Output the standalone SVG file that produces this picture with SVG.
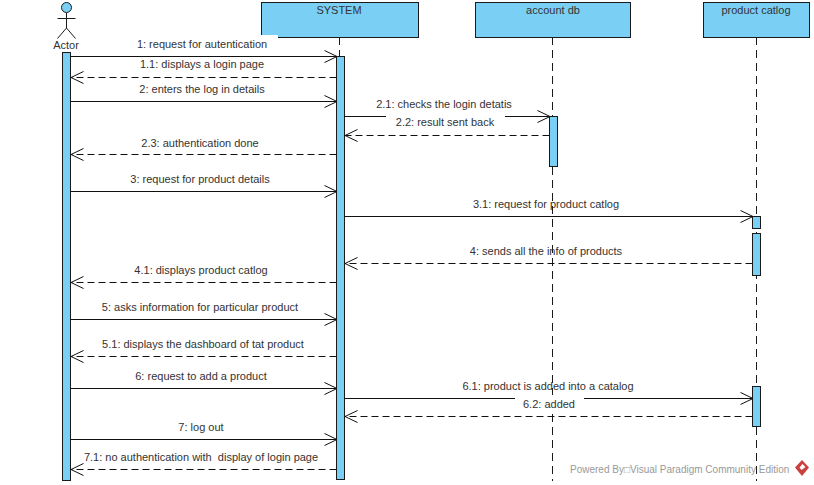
<svg xmlns="http://www.w3.org/2000/svg" width="814" height="485" viewBox="0 0 814 485">
<style>
text{font-family:"Liberation Sans",Arial,sans-serif;font-size:11px;fill:#333;text-anchor:middle;white-space:pre}
.box{fill:#7acff5;stroke:#1a1a1a;stroke-width:1}
.act{fill:#7acff5;stroke:#1a1a1a;stroke-width:1}
.life{stroke:#1a1a1a;stroke-width:1;stroke-dasharray:8 5;fill:none}
.msg{stroke:#111;stroke-width:1;fill:none;marker-end:url(#open)}
.ret{stroke:#111;stroke-width:1;stroke-dasharray:7 4;fill:none;marker-end:url(#open)}
.bg{fill:#fff}
text.wm{font-size:10px;fill:#999;text-anchor:start}
</style>
<defs>
<marker id="open" markerUnits="userSpaceOnUse" markerWidth="16" markerHeight="16" refX="13.5" refY="8" orient="auto"><path d="M1 2L13.5 8L1 14" fill="none" stroke="#111" stroke-width="1"/></marker>
</defs>
<rect width="814" height="485" fill="#fff"/>
<g id="lifelines">
<path class="life" d="M339.500 37V480"/>
<path class="life" d="M552.500 37V481"/>
<path class="life" d="M756.500 37V481"/>
</g>
<g id="node-actor">
<circle cx="66.500" cy="7.500" r="5" fill="#7acff5" stroke="#1a1a1a"/>
<path d="M66.500 13V28M57.500 18.500H75.500M66.500 28L57.500 38.500M66.500 28L75.500 38.500" fill="none" stroke="#1a1a1a"/>
<text x="66" y="49">Actor</text>
<rect class="act" x="62.500" y="52.500" width="8" height="428"/>
</g>
<g id="node-system">
<rect class="box" x="261.500" y="2.500" width="157" height="35"/>
<text x="339" y="14">SYSTEM</text>
<rect class="act" x="336.500" y="56.500" width="8" height="423"/>
</g>
<g id="node-account">
<rect class="box" x="475.500" y="2.500" width="155" height="35"/>
<text x="553" y="14">account db</text>
<rect class="act" x="549.500" y="116.500" width="8" height="50"/>
</g>
<g id="node-product">
<rect class="box" x="703.500" y="2.500" width="106" height="35"/>
<text x="756" y="14">product catlog</text>
<rect class="act" x="752.500" y="216.500" width="8" height="12"/>
<rect class="act" x="752.500" y="233.500" width="8" height="42"/>
<rect class="act" x="752.500" y="386.500" width="8" height="40"/>
</g>
<g id="connectors">
<path class="msg" d="M70.500 56.500H337"/>
<path class="ret" d="M336.500 77.500H71"/>
<path class="msg" d="M70.500 101.500H337"/>
<path class="msg" d="M344.500 116.500H550"/>
<path class="ret" d="M549.500 135.500H345"/>
<path class="ret" d="M336.500 154.500H71"/>
<path class="msg" d="M70.500 191.500H337"/>
<path class="msg" d="M344.500 216.500H753"/>
<path class="ret" d="M752.500 263.500H345"/>
<path class="ret" d="M336.500 282.500H71"/>
<path class="msg" d="M70.500 319.500H337"/>
<path class="ret" d="M336.500 356.500H71"/>
<path class="msg" d="M70.500 388.500H337"/>
<path class="msg" d="M344.500 398.500H753"/>
<path class="ret" d="M752.500 416.500H345"/>
<path class="msg" d="M70.500 439.500H337"/>
<path class="ret" d="M336.500 469.500H71"/>
</g>
<g id="labels">
<rect class="bg" x="130" y="35" width="148" height="16"/>
<text x="202" y="48">1: request for autentication</text>
<text x="202" y="68">1.1: displays a login page</text>
<text x="202" y="93">2: enters the log in details</text>
<rect class="bg" x="386" y="109" width="119" height="14"/>
<text x="444" y="108">2.1: checks the login detatis</text>
<text x="445" y="126">2.2: result sent back</text>
<text x="200" y="147">2.3: authentication done</text>
<text x="200" y="183">3: request for product details</text>
<text x="546" y="208">3.1: request for product catlog</text>
<text x="546" y="255">4: sends all the info of products</text>
<text x="201" y="274">4.1: displays product catlog</text>
<text x="200" y="311">5: asks information for particular product</text>
<text x="203" y="348">5.1: displays the dashboard of tat product</text>
<text x="201" y="380">6: request to add a product</text>
<text x="548" y="390">6.1: product is added into a catalog</text>
<rect class="bg" x="515" y="395" width="69" height="14"/>
<text x="549" y="408">6.2: added</text>
<text x="201" y="431">7: log out</text>
<text x="201" y="461">7.1: no authentication with  display of login page</text>
</g>
<g id="watermark">
<text class="wm" x="570" y="473">Powered By□Visual Paradigm Community Edition</text>
<path d="M802 460L809 467.500L802 476L795 467.500Z" fill="#c9403f"/>
<path d="M802.500 464L805.500 467L801.500 470L799.500 467.500Z" fill="#fff"/>
</g>
</svg>
